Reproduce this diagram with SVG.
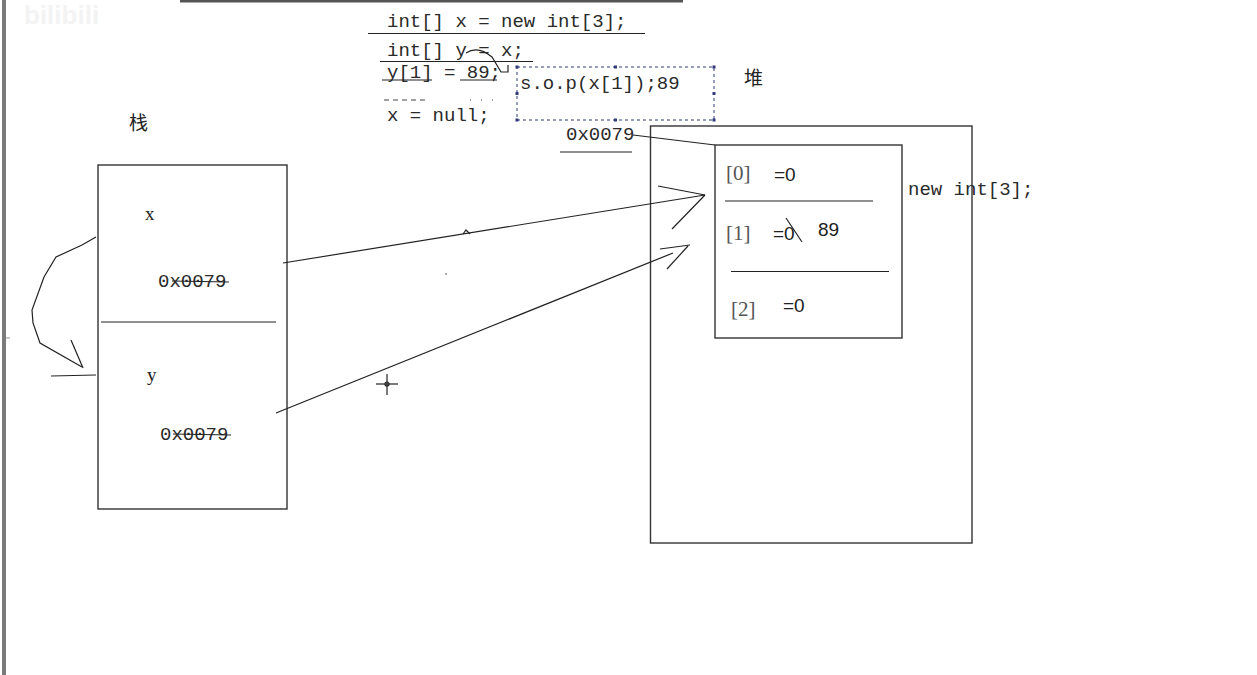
<svg xmlns="http://www.w3.org/2000/svg" width="1257" height="675" viewBox="0 0 1257 675">
<defs>
<style>
.ln{stroke:#222;stroke-width:1.2;fill:none}
.box{stroke:#333;stroke-width:1.4;fill:none}
.mono{font-family:"Liberation Mono","DejaVu Sans Mono",monospace;font-size:19px;fill:#2a2a2a}
.serif{font-family:"Liberation Serif",serif;font-size:19px;fill:#222}
.brk{font-family:"Liberation Serif",serif;font-size:21px;fill:#555}
.sans{font-family:"Liberation Sans",Arial,sans-serif;font-size:19px;fill:#222}
.cjk{font-family:"Noto Sans CJK SC",sans-serif;font-size:19px;fill:#222}
</style>
</defs>
<rect x="0" y="0" width="1257" height="675" fill="#fff"/>
<rect x="2" y="0" width="4" height="675" fill="#7a7a7a"/>
<line x1="6" y1="338" x2="10" y2="338" stroke="#999" stroke-width="1"/>
<line x1="180" y1="1" x2="683" y2="1" stroke="#555" stroke-width="3"/>
<text x="24" y="24" font-family="Liberation Sans,sans-serif" font-size="26" font-weight="bold" fill="#f3f3f3">bilibili</text>

<g id="code">
<text class="mono" x="387" y="27">int[] x = new int[3];</text>
<line class="ln" x1="368" y1="33.5" x2="645" y2="33.5"/>
<text class="mono" x="387" y="56">int[] y = x;</text>
<line class="ln" x1="380" y1="61.5" x2="533" y2="61.5"/>
<path class="ln" d="M466,53 Q478,45 492,57 L501,72 L508,72 L508,65"/>
<text class="mono" x="387" y="78">y[1] = 89;</text>
<line class="ln" x1="382" y1="80" x2="432" y2="80"/>
<line class="ln" x1="460" y1="80" x2="497" y2="80"/>
<line x1="384" y1="100" x2="428" y2="100" stroke="#444" stroke-width="1" stroke-dasharray="5,4"/>
<line x1="470" y1="100" x2="497" y2="100" stroke="#444" stroke-width="1" stroke-dasharray="1,10"/>
<text class="mono" x="387" y="121">x = null;</text>
</g>

<g id="note">
<rect x="517" y="67" width="197" height="53" fill="none" stroke="#333a7a" stroke-width="1" stroke-dasharray="3,3"/>
<g fill="#333a7a">
<rect x="515.5" y="65.5" width="3" height="3"/><rect x="614" y="65.5" width="3" height="3"/><rect x="712.5" y="65.5" width="3" height="3"/>
<rect x="515.5" y="92" width="3" height="3"/><rect x="712.5" y="92" width="3" height="3"/>
<rect x="515.5" y="118.5" width="3" height="3"/><rect x="614" y="118.5" width="3" height="3"/><rect x="712.5" y="118.5" width="3" height="3"/>
</g>
<text class="mono" x="520" y="89">s.o.p(x[1]);89</text>
</g>

<text class="cjk" x="744" y="85">堆</text>
<text class="cjk" x="129" y="130">栈</text>

<g id="stack">
<rect class="box" x="98" y="165" width="189" height="344"/>
<line class="ln" x1="101" y1="322" x2="276" y2="322"/>
<text class="serif" x="145" y="220">x</text>
<text class="mono" x="158" y="287">0x0079</text>
<line class="ln" x1="172" y1="281" x2="229" y2="282"/>
<text class="serif" x="147" y="381">y</text>
<text class="mono" x="160" y="440">0x0079</text>
<line class="ln" x1="173" y1="434" x2="231" y2="435"/>
</g>

<g id="heap">
<rect class="box" x="650.5" y="126" width="321.5" height="417"/>
<text class="mono" x="566" y="140">0x0079</text>
<line class="ln" x1="560" y1="152" x2="632" y2="152"/>
<text class="mono" x="908" y="195">new int[3];</text>
</g>

<g id="array">
<rect class="box" x="715" y="145" width="187" height="193"/>
<line class="ln" x1="725" y1="201" x2="873" y2="201"/>
<line class="ln" x1="731" y1="271.5" x2="889" y2="271.5"/>
<text class="brk" x="726" y="180">[0]</text>
<text class="sans" x="774" y="181">=0</text>
<text class="brk" x="726" y="240">[1]</text>
<text class="sans" x="773" y="240">=0</text>
<line class="ln" x1="786" y1="218" x2="802" y2="242"/>
<text class="sans" x="818" y="236" fill="#333">89</text>
<text class="brk" x="731" y="316">[2]</text>
<text class="sans" x="783" y="312">=0</text>
</g>

<g id="connectors">
<line class="ln" x1="633" y1="135" x2="715" y2="145"/>
<line class="ln" x1="283" y1="263" x2="705" y2="195"/>
<line class="ln" x1="658" y1="186" x2="705" y2="195"/>
<line class="ln" x1="672" y1="229" x2="705" y2="195"/>
<path class="ln" d="M463,234 L466,230 L470,234" stroke-width="0.8"/>
<circle cx="446" cy="274" r="0.8" fill="#444"/>
<line class="ln" x1="276" y1="413" x2="673" y2="253"/>
<line class="ln" x1="660" y1="249" x2="690" y2="245"/>
<line class="ln" x1="667" y1="269" x2="688" y2="246"/>
<path class="ln" d="M96,237 L82,245 L56,257 L44,277 L32,310 L33,323 L40,343 L82,367"/>
<line class="ln" x1="71" y1="340" x2="83" y2="368"/>
<line class="ln" x1="51" y1="376" x2="96" y2="375"/>
</g>

<g id="cursor" stroke="#222" stroke-width="1.2" fill="none">
<line x1="387" y1="374" x2="387" y2="395"/>
<line x1="376" y1="384" x2="398" y2="384"/>
<circle cx="387" cy="384" r="2"/>
</g>
</svg>
